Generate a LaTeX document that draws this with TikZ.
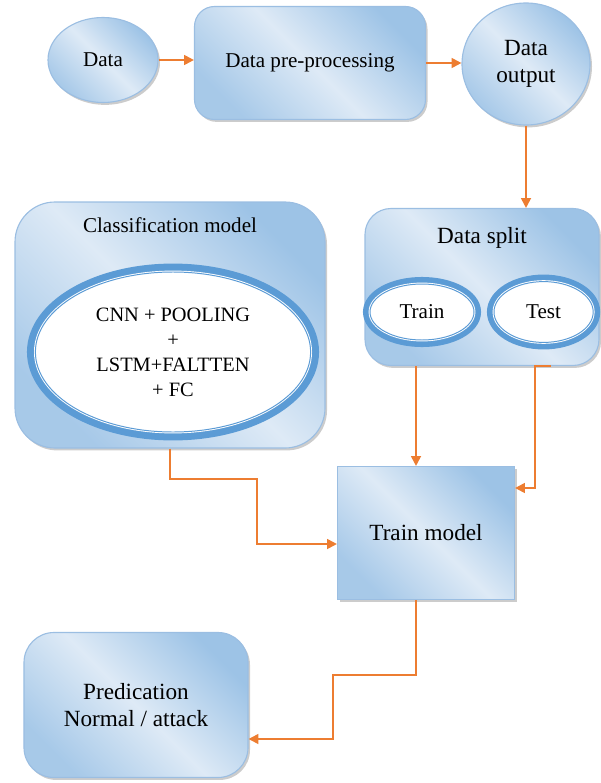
\documentclass[tikz,border=0pt]{standalone}
\usepackage{fontspec}
\setmainfont{Liberation Serif}
\usetikzlibrary{shapes.geometric, arrows.meta, shadows, positioning}
\definecolor{boxlight}{HTML}{DEEAF6}
\definecolor{boxdark}{HTML}{9DC3E6}
\definecolor{boxline}{HTML}{9BBEE2}
\definecolor{ringblue}{HTML}{5B9BD5}
\definecolor{flowline}{HTML}{ED7D31}
\tikzset{
    bluefill/.style={top color=boxdark, bottom color=boxdark!85!boxlight, middle color=boxlight,
        shading angle=-45, draw=boxline, line width=0.8pt,
        drop shadow={shadow xshift=0.05cm, shadow yshift=-0.06cm, fill=black!50, opacity=0.4}},
    roundbox/.style={bluefill, rectangle, rounded corners=#1},
    ovalnode/.style={bluefill, ellipse},
    ring/.style={ellipse, fill=white, draw=white, line width=2pt,
        preaction={draw=ringblue, line width=#1},
        postaction={draw=ringblue, line width=0.7pt}},
    ring/.default=10pt,
    txt/.style={font=\fontsize{15}{18}\selectfont, align=center},
    bigtxt/.style={font=\fontsize{16.5}{19.2}\selectfont, align=center},
    flow/.style={draw=flowline, line width=1.4pt, -{Triangle[length=7pt, width=7pt]}}
}
\begin{document}
\begin{tikzpicture}
    \useasboundingbox (0,0) rectangle (15,-19.575);
    \node[ovalnode, txt, minimum width=2.75cm, minimum height=2.125cm] (data) at (2.575,-1.5) {Data};
    \node[roundbox=0.5cm, txt, minimum width=5.775cm, minimum height=2.825cm] (prep) at (7.75,-1.575) {Data pre-processing};
    \node[ovalnode, bigtxt, minimum width=3.2cm, minimum height=3.05cm] (dout) at (13.15,-1.6) {Data\\output};
    \node[roundbox=1cm, minimum width=7.75cm, minimum height=6.15cm] (cls) at (4.25,-8.125) {};
    \node[txt, below=0.6cm of cls.north, anchor=center] (clstitle) {Classification model};
    \node[ring=12pt, font=\fontsize{14.5}{17.8}\selectfont, align=center, minimum width=6.88cm, minimum height=4.0cm] (cnn) at (4.325,-8.8) {CNN + POOLING\\+\\LSTM+FALTTEN\\+ FC};
    \node[roundbox=0.65cm, minimum width=5.85cm, minimum height=3.925cm] (spl) at (12.05,-7.175) {};
    \node[bigtxt, below=0.75cm of spl.north, anchor=center] (spltitle) {Data split};
    \node[ring, txt, minimum width=2.6cm, minimum height=1.4cm] (train) at (10.55,-7.8) {Train};
    \node[ring, txt, minimum width=2.48cm, minimum height=1.52cm] (test) at (13.59,-7.8) {Test};
    \node[bluefill, rectangle, bigtxt, minimum width=4.425cm, minimum height=3.325cm] (trainm) at (10.65,-13.325) {Train model};
    \node[roundbox=0.75cm, bigtxt, minimum width=5.6cm, minimum height=3.625cm] (pred) at (3.4,-17.625) {Predication\\Normal / attack};
    \draw[flow] (data.east) -- (data.east -| prep.west);
    \draw[flow] (prep.east) -- (prep.east -| dout.west);
    \draw[flow] (dout.south) -- (dout.south |- spl.north);
    \draw[flow] ([xshift=-0.25cm]trainm.north |- spl.south) -- ([xshift=-0.25cm]trainm.north);
    \coordinate (tsplit) at ([xshift=-0.225cm]test.south |- spl.south);
    \draw[flow] ([xshift=0.4cm]tsplit) -- (tsplit) |- ([yshift=1.125cm]trainm.east);
    \draw[flow] (cls.south) -- ++(0,-0.75) -| ([xshift=-2cm, yshift=-0.275cm]trainm.west) -- ([yshift=-0.275cm]trainm.west);
    \draw[flow] ([xshift=-0.25cm]trainm.south) -- ++(0,-1.8625) -| ([xshift=2.1cm, yshift=-0.85cm]pred.east) -- ([yshift=-0.85cm]pred.east);
\end{tikzpicture}
\end{document}
